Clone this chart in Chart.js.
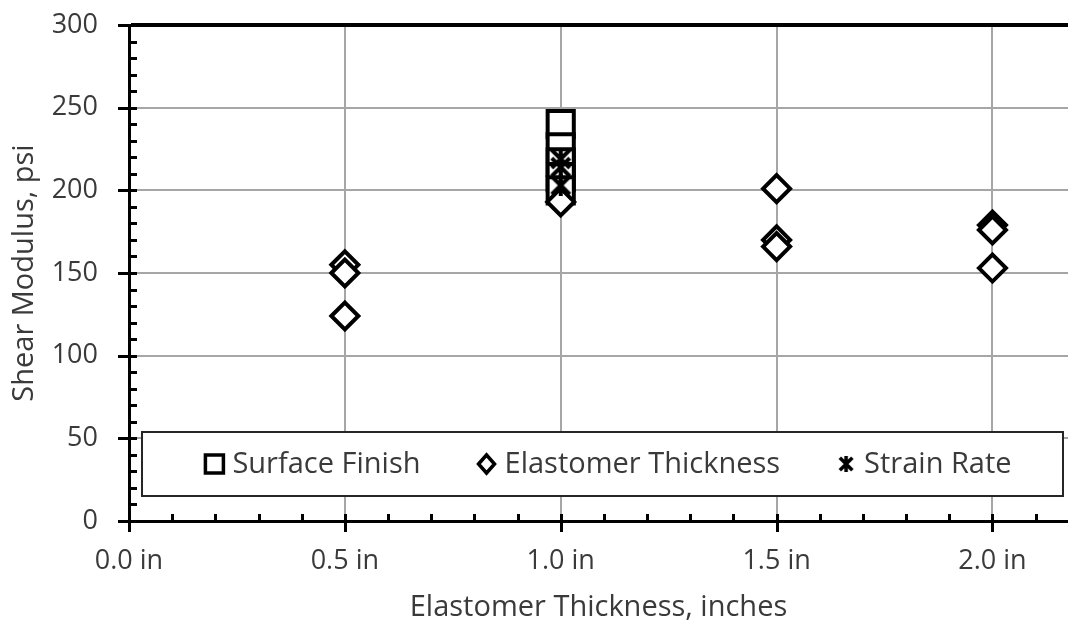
<!DOCTYPE html>
<html>
<head>
<meta charset="utf-8">
<script src="https://cdn.jsdelivr.net/npm/chart.js@4.4.0/dist/chart.umd.min.js"></script>
<style>
  html, body { margin: 0; padding: 0; background: #fff; }
  #wrap { width: 1068px; height: 625px; }
</style>
</head>
<body>
<div id="wrap"><canvas id="myChart"></canvas></div>
<script>
"use strict";

// Shear modulus (psi) against elastomer thickness (in), one list per test group
const surfaceX = [1.0, 1.0, 1.0, 1.0, 1.0];
const surfaceY = [240, 226, 217, 208, 200];
const thicknessX = [0.5, 0.5, 0.5, 1.0, 1.5, 1.5, 1.5, 2.0, 2.0, 2.0];
const thicknessY = [155, 150, 124, 193, 201, 170, 166, 179, 176, 153];
const strainX = [1.0, 1.0, 1.0];
const strainY = [219, 214, 203];

const seriesNames = ["Surface Finish", "Elastomer Thickness", "Strain Rate"];
const xTicks = [0, 0.5, 1.0, 1.5, 2.0];
const xTickLabels = ["0.0 in", "0.5 in", "1.0 in", "1.5 in", "2.0 in"];
const yTicks = [0, 50, 100, 150, 200, 250, 300];

const textColor = "#3a3a3a";
const fontFamily = "'Open Sans', sans-serif";
const titleFont = { size: 29 };

Chart.defaults.font.family = fontFamily;
Chart.defaults.font.size = 27;
Chart.defaults.color = textColor;

const toPoints = (xs, ys) => xs.map((x, i) => ({ x: x, y: ys[i] }));

// Excel style star marker: an X with a vertical bar through it
const makeStar = function (size, lw) {
  const c = document.createElement("canvas");
  c.width = size;
  c.height = size;
  const g = c.getContext("2d");
  const p = lw / 2;
  g.strokeStyle = "#000";
  g.lineWidth = lw;
  g.beginPath();
  g.moveTo(p, p);
  g.lineTo(size - p, size - p);
  g.moveTo(size - p, p);
  g.lineTo(p, size - p);
  g.moveTo(size / 2, 0);
  g.lineTo(size / 2, size);
  g.stroke();
  return c;
};

const starMark = makeStar(22, 4);
const starLegend = makeStar(16, 3.5);

// Major ticks cross the axis lines, minor ticks sit inside the plot
const axisTicks = {
  id: "axisTicks",
  afterDraw(chart) {
    const { ctx, chartArea, scales } = chart;
    ctx.save();
    ctx.strokeStyle = "#000";
    ctx.lineWidth = 3;
    for (let v = 0; v <= 300; v += 10) {
      const y = Math.round(scales.y.getPixelForValue(v)) + 0.5;
      const major = v % 50 === 0;
      ctx.beginPath();
      ctx.moveTo(chartArea.left - (major ? 11 : 0), y);
      ctx.lineTo(chartArea.left + 8, y);
      ctx.stroke();
    }
    for (let i = 0; i / 10 <= scales.x.max; i++) {
      const x = Math.round(scales.x.getPixelForValue(i / 10)) + 0.5;
      const major = i % 5 === 0;
      ctx.beginPath();
      ctx.moveTo(x, chartArea.bottom - 7);
      ctx.lineTo(x, chartArea.bottom + (major ? 11 : 0));
      ctx.stroke();
    }
    ctx.restore();
  },
};

// Legend drawn as a framed box inside the lower part of the plot
const legendBox = {
  id: "legendBox",
  afterDraw(chart) {
    const { ctx, chartArea } = chart;
    const left = chartArea.left + 13;
    const right = chartArea.right - 5;
    const top = chartArea.bottom - 89;
    const bottom = chartArea.bottom - 25;
    const cy = (top + bottom) / 2;

    ctx.save();
    ctx.fillStyle = "#fff";
    ctx.fillRect(left, top, right - left, bottom - top);
    ctx.strokeStyle = "#262626";
    ctx.lineWidth = 2;
    ctx.strokeRect(left, top, right - left, bottom - top);

    ctx.font = titleFont.size + "px " + fontFamily;
    const markHalf = 11;
    const textGap = 18;
    const spacing = 66;
    const widths = seriesNames.map((t) => ctx.measureText(t).width);
    let total = markHalf;
    widths.forEach((w) => (total += textGap + w));
    total += spacing * (seriesNames.length - 1);
    let mx = (left + right) / 2 - total / 2 + markHalf + 5;

    seriesNames.forEach((name, i) => {
      ctx.strokeStyle = "#000";
      ctx.fillStyle = "#fff";
      ctx.lineWidth = 3.5;
      if (i === 0) {
        ctx.fillRect(mx - 9, cy - 9, 18, 18);
        ctx.strokeRect(mx - 9, cy - 9, 18, 18);
      } else if (i === 1) {
        ctx.beginPath();
        ctx.moveTo(mx - 8, cy);
        ctx.lineTo(mx, cy - 9);
        ctx.lineTo(mx + 8, cy);
        ctx.lineTo(mx, cy + 9);
        ctx.closePath();
        ctx.fill();
        ctx.stroke();
      } else {
        ctx.drawImage(starLegend, mx - 8, cy - 8);
      }
      ctx.fillStyle = textColor;
      ctx.textBaseline = "middle";
      ctx.textAlign = "left";
      ctx.fillText(name, mx + textGap, cy + 1);
      mx += textGap + widths[i] + spacing;
    });
    ctx.restore();
  },
};

const ctx = document.getElementById("myChart").getContext("2d");

const myChart = new Chart(ctx, {
  type: "scatter",
  data: {
    datasets: [
      {
        label: seriesNames[0],
        data: toPoints(surfaceX, surfaceY),
        pointStyle: "rect",
        pointRadius: 18.5,
        borderWidth: 4,
        borderColor: "#000",
        backgroundColor: "#fff",
        order: 3,
      },
      {
        label: seriesNames[1],
        data: toPoints(thicknessX, thicknessY),
        pointStyle: "rectRot",
        pointRadius: 13.5,
        borderWidth: 4,
        borderColor: "#000",
        backgroundColor: "#fff",
        order: 2,
      },
      {
        label: seriesNames[2],
        data: toPoints(strainX, strainY),
        pointStyle: starMark,
        pointRadius: 11,
        borderColor: "#000",
        backgroundColor: "#000",
        order: 1,
      },
    ],
  },
  options: {
    responsive: true,
    maintainAspectRatio: false,
    animation: false,
    events: [],
    layout: {
      autoPadding: false,
      padding: { top: 25, right: 0, left: 0, bottom: 0 },
    },
    scales: {
      x: {
        type: "linear",
        min: 0,
        max: 2.175,
        afterBuildTicks: (scale) => {
          scale.ticks = xTicks.map((v) => ({ value: v }));
        },
        afterFit: (scale) => {
          scale.height = 104;
          scale.paddingLeft = 0;
          scale.paddingRight = 0;
        },
        ticks: {
          padding: 24,
          maxRotation: 0,
          color: textColor,
          callback: (value, index) => xTickLabels[index],
        },
        grid: {
          color: "#a6a6a6",
          lineWidth: 2,
          drawTicks: false,
        },
        border: { color: "#000", width: 3 },
        title: {
          display: true,
          text: "Elastomer Thickness, inches",
          color: textColor,
          font: titleFont,
          padding: { top: 0, bottom: 0 },
        },
      },
      y: {
        min: 0,
        max: 300,
        afterBuildTicks: (scale) => {
          scale.ticks = yTicks.map((v) => ({ value: v }));
        },
        afterFit: (scale) => {
          scale.width = 129;
          scale.paddingTop = 0;
          scale.paddingBottom = 0;
        },
        ticks: {
          padding: 31,
          color: textColor,
        },
        grid: {
          color: (c) => (c.tick && c.tick.value === 300 ? "#000" : "#a6a6a6"),
          lineWidth: (c) => (c.tick && c.tick.value === 300 ? 4 : 2),
          drawTicks: false,
        },
        border: { color: "#000", width: 3 },
        title: {
          display: true,
          text: "Shear Modulus, psi",
          color: textColor,
          font: titleFont,
          padding: { top: 7, bottom: 0 },
        },
      },
    },
    plugins: {
      legend: { display: false },
      tooltip: { enabled: false },
    },
  },
  plugins: [axisTicks, legendBox],
});
</script>
</body>
</html>
